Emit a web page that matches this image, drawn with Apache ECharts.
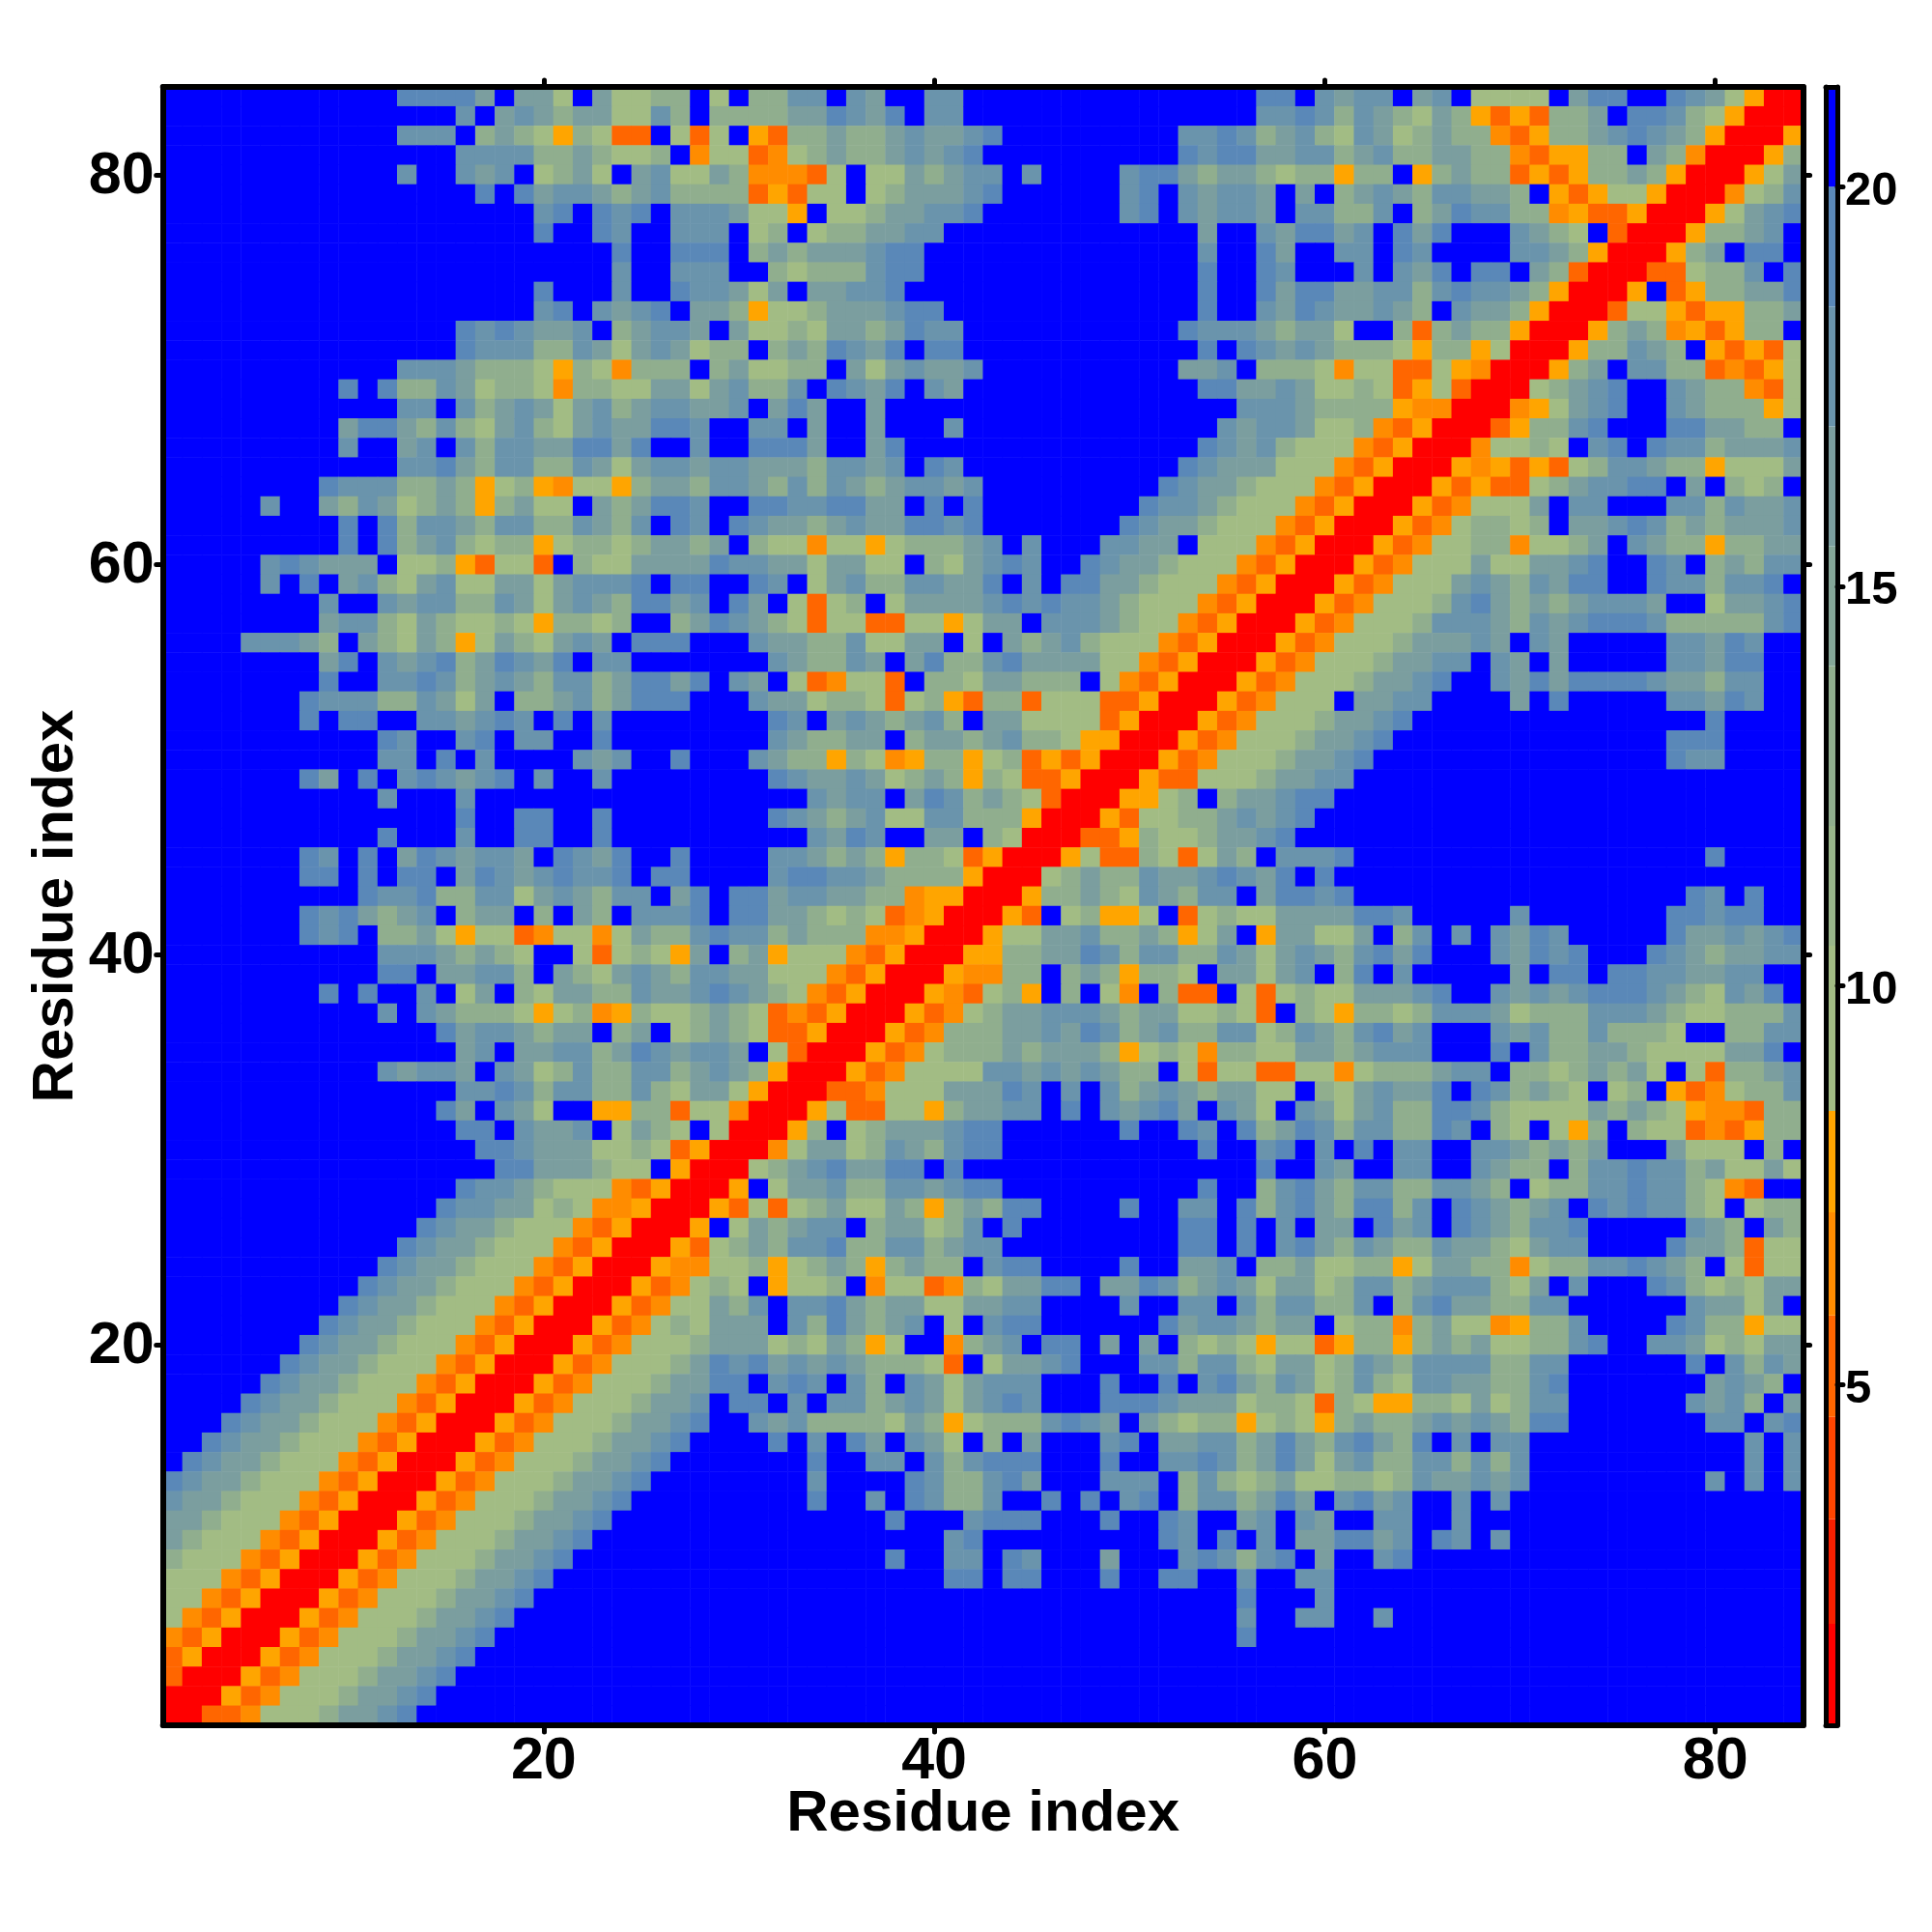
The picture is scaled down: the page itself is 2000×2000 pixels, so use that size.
<!DOCTYPE html>
<html>
<head>
<meta charset="utf-8">
<style>html,body{margin:0;padding:0;background:#fff}#c{width:2000px;height:2000px}</style>
<script src="https://cdn.jsdelivr.net/npm/echarts@6/dist/echarts.min.js"></script>
</head>
<body>
<div id="c"></div>
<script>
// Cell codes. Each string is one row, residue 84 at the top.
// Digit = colour level; d{n} = digit d repeated n times.
const rowsTop = [
"9{12}8888696649644559 4955779769977 9{15} 8897677967944449688998764300",
"9{15}7967656644759 5555668768977 9{15} 7787576546531315569887543000",
"9{12}7779565435411941 493155655676678 9{9} 7787 5675476456552135567876530003",
"9{15}7777556544592 44124565567678 9{10} 8788 6677567556655213355965200035",
"9{12}7997679456496744 6522214944656779799997886566 5455355935655131355653000346",
"9{16}898677656755 551314494566678 9{6} 7897677 6969567657766593134430002457",
"9{19}789878977 76443944566778 9{7} 7897677 6977557956877552311300034678",
"9{19}899879977 794594556677 9{13} 699 7688679868999765491000355679",
"9{23}89988 89565666788 9{14} 799 8699779879999776530003569889",
"9{23}79977 79954555788 9{14} 899 8799979768988965100011455798",
"9{19}899979987 7646966778 9{15} 899 8688667757877653000391355668",
"9{19}789767896 653445666788 9{13} 899 7687667659766530001443133556",
"9{15}8787667956776 9644546656877 9{11} 8777 6566499515655300035652313559",
"9{15}8777557646764 5595658768988 9{12} 898 7676555435534000355765931314",
"9{12}7776555435425559 56445596467667 9{10} 6679 5554244114320003569775512134",
"9{9}8985576455425544664 6755798768976 9{12} 886 6764454134100045678997655214",
"9{12}7797567646756776 679686996 9{18} 7 7765555322000234678997655534",
"9{9}6886575467546766887 9977969969997 9{13} 76 7764452130001355789998866559",
"9{9}7996797577668868997 9988869968 9{15} 876 7544421300024454978987756667",
"9{12}7786577557646776 7766657767987 9{11} 8766 6444213000323131457765534446",
"9{8}87775565345324435665 77657576567767 9{9} 87665 4442130003131145677889695459",
"9{5}799 65764565356449656887 99887788669898 9{8} 877654 4421300031244469779997757667",
"9{9}8985776577557657987 98766567668878 9{7} 8766544 4213000312455459667875656667",
"9{9}8985675455345545665 6954424434555679799977669444 2130003124455244569765535566",
"9{5}78766694453144195446666 8776646644954678799876654442 1300031244464466789987956577",
"9{5}79896754674466467778988 9987946755776689798866544421 3000312444676576889987757789",
"9{8}79976775576467658867 9869414594666678787765444213 0003124445786565677769946678",
"9{8}67754654454355459956 8765414411443466977765442130 0031244457776576788875555578"
];
const rowsMiddle = [
"9{4}777659654653465467698889 9976655744669496567544421300 0312444566676976999997768799",
"9{8}68976785687689779999 9997655769685578666644213000 3124445667797696999997768899",
"9{8}89977875676577568868 9769412441955466555942130003 1244456678997686888876657799",
"9{7}877755764695567568889 9976645541453155144411300031 2444966779999698999997768799",
"9{7}898899776787989799999 9998796765675966444413000312 44456678 9{15} 8 9{4}",
"9{11}87997897799899999 9997655669566567554330003124 4456678 9{14} 888 9{4}",
"9{11}77989799997679989 9976553542355345131300031244 456678 9{15} 877 9{4}",
"9{7}869897876789799799999 9998766764565354113000311444 56677 9{23}",
"9{11}7 999 7 9{12} 9999976779687565410003345956 6788 9{24}",
"9{15}89988998 9{5} 9998765674477555300031445567 678 9{25}",
"9{11}899979988998 9{5} 9999976879966954000113544566 78 9{26}",
"9{7}879896876776987689989 9997765653554130003411541465 97778 9{18} 8 9{4}",
"9{7}889898896876787789889 9997887765555300045655766787 6898 9{24}",
"9{10}877855774676577968 9886776655233000355654765779 68878 9{17} 879899",
"9{7}878656795669596597778 9886654541230003194533491454 46666887 9{5} 7 9{7} 8878899",
"9{7}878955643441244246557 8775655522300034466755653469 3664469579797687999998667678",
"9{11}77765654994145436 9563444213000335566875775576 4676578689997687899987656677",
"9{11}88966775965467657 7664442130003225595653554966 4679589799999698898877667799",
"9{8}89899794695466557667 8765421300032145395942951194 1454466678997676788876547689",
"9{11}79765554345235445 6541213000312456677765664454 1954355457776455577765445557",
"9{14}86776566956945 6541130003125556676875675577 4576578679997675575554995577",
"9{15}6796677568767 7694100031245556566653454255 4466567779998975566544446689",
"9{11}76776976457557756 7653000312444477676765594144 1144245556779554565649415567",
"9{15}7787577557546 6430001124446668797975676566 4495467668987565494593124557",
"9{14}86976499335514 4200034114435667798976786976 4976467558875444465654322155",
"9{15}8897667946549 4000359456667889999998998798 5687577558795494359544121355",
"9{16}887666445413 000246645765788 9{10} 899 7897989779977656569996444959",
"9{17}88666544930 0045678668898 9{15} 8997699779976559577877564464"
];
const rowsBottom = [
"9{15}8776544421300 039466755776788 9{10} 899 5786577557765945577877542199",
"9{14}87766454223000 3141456446535658899998997798 5786588579876567987877549455",
"9{13}876654442130003 9465677956645798 9{8} 8898 9796698679876577899999765965",
"9{12}8766544421300031 456577855775677 9{9} 8898 9786576557665467799998665144",
"9{11}87665444213000322 4453456535655978899998996679 5564455346655245577876594144",
"9{10}876654442130003124 5493445924412546688966875676 4664577567775469799987545466",
"9{9}8766544421300031244 6579778656644667799997997797 5775579578665577999999766469",
"9{8}87665444213000312454 6669758656794978899999986776 5669455256442355799998755344",
"9{7}876654442130003124445 6664546534992567988969695454 3441355356564455789977645466",
"9{6}8766544421300031244456 8786767655541946678999775775 4664576577775577999999897576",
"9{5}87665444213000312444566 8897879759764677799989989786 5764575477665578999999967659",
"9{4}876654442130003124445667 9889797756764678799988876664 5541543355464577999999767596",
"9{3}8766544421300031244456678 9976755554653455578769654553 4543565567676588999999977978",
"9{2}87665444213000312444566789 9998979869764959699978966775 68657865897977 9{11} 797",
"9{1}876654442130003124445667899 9999989977975788899989977875 68646755775757 9{11} 797",
"8766544421300031244456678999 9999979999875578699977795754 56445545766767 9{9} 79797",
"7665444213000312444566789999 9999989979875579989897895775 6869786799797 9{15}",
"66544421300031244456678 9{5} 9{9}8999788899989987996 79769977997 9{17}",
"6544421300031244456678 9{6} 9{12} 78 9{9} 87989 7966886798797 9{15}",
"544421300031244456678 9{7} 9{9} 8 99 77 9 87 999 6 999 7875 78969978 9{20}",
"44421300031244456678 9{8} 9{12} 88 9 88 999 8 99 88 99 7 9977 9{24}",
"4421300031244456678 9{9} 9{27} 8 9997 9{24}",
"421300031244456678 9{10} 9{27} 7 9977997 9{21}",
"21300031244456678 9{11} 9{27} 8 9{28}",
"1300031244456678 9{12} 9{28} 9{28}",
"100031244456678 9{13} 9{28} 9{28}",
"00031244456678 9{14} 9{28} 9{28}",
"0011244456678 9{15} 9{28} 9{28}"
];
// What each colour level stands for, in the colour bar's units.
const levelValues = [1.4, 5.2, 6.5, 7.8, 10, 13, 15.5, 17.8, 19.3, 20.7];
const levelColors = ["#FF0000","#FF6600","#FF8C00","#FFA500","#A2BC84","#90AE8E","#7B9E9F","#6A94AC","#5A88B8","#0000FF"];
const residues = Array.from({length: 84}, (_, i) => String(i + 1));
const tickResidues = ["20", "40", "60", "80"];
const axisTitle = "Residue index";
const barTicks = [5, 10, 15, 20];
const barMin = 0.74, barMax = 21.25;
const barEdges = [2.01, 3.32, 4.6, 5.87, 7.16, 8.43, 10.5, 12, 14, 15.5, 17, 18.5, 20, 21.25];
const barColors = ["#FF0000","#F82000","#FF4500","#FF6600","#FF8C00","#FFA500","#A2BC84","#98B58A","#90AE8E","#84A698","#7B9E9F","#6A94AC","#5A88B8","#0000FF"];

const rows = rowsTop.concat(rowsMiddle, rowsBottom).map(s =>
  s.replace(/ /g, "").replace(/(\d)\{(\d+)\}/g, (m, d, n) => d.repeat(+n)));
rows.forEach((r, i) => { if (r.length !== 84) throw new Error("row " + (84 - i) + " has " + r.length); });
const cells = [];
rows.forEach((r, i) => {
  for (let x = 0; x < 84; x++) cells.push([x, 83 - i, levelValues[+r[x]]]);
});

const FONT = "Liberation Sans";
const black = "#000";
const showTick = (i, v) => tickResidues.includes(v);
function gridCat(dir, pos, labelled) {
  const yLabelShift = dir === "y" ? {verticalAlign: "top", lineHeight: 4} : {};
  return {
    type: "category", gridIndex: 0, data: residues, position: pos, z: 5,
    boundaryGap: true, name: labelled ? axisTitle : "", nameLocation: "middle",
    nameMoveOverlap: false,
    nameGap: dir === "x" ? 62 : 80,
    nameTextStyle: {fontFamily: FONT, fontWeight: "bold", fontSize: 60, color: black},
    axisLine: {show: true, onZero: false, lineStyle: {color: black, width: 6, cap: "round"}},
    axisTick: {show: true, alignWithLabel: true, interval: showTick, length: 7,
               lineStyle: {color: black, width: 5, cap: "round"}},
    axisLabel: Object.assign({show: labelled, interval: showTick, margin: dir === "x" ? 8 : 9,
                fontFamily: FONT, fontWeight: "bold", fontSize: 61, color: black}, yLabelShift),
    splitLine: {show: false}, splitArea: {show: false}
  };
}
const barSeries = barEdges.map((e, i) => ({
  type: "bar", stack: "scale", xAxisIndex: 2, yAxisIndex: 2, barWidth: "100%", silent: true,
  data: [i === 0 ? e : +(e - barEdges[i - 1]).toFixed(2)],
  itemStyle: {color: barColors[i]}, animation: false
}));
const chart = echarts.init(document.getElementById("c"), null, {renderer: "canvas"});
chart.setOption({
  backgroundColor: "#fff",
  animation: false,
  grid: [
    {left: 168.7, top: 90, width: 1697.9, height: 1696},
    {left: 1890, top: 90, width: 12, height: 1696}
  ],
  visualMap: {
    show: false, type: "piecewise", seriesIndex: 0, dimension: 2,
    pieces: levelValues.map((v, i) => ({value: v, color: levelColors[i]}))
  },
  xAxis: [
    gridCat("x", "bottom", true),
    gridCat("x", "top", false),
    {type: "category", gridIndex: 1, data: [""], position: "bottom", z: 5,
     axisLine: {show: true, lineStyle: {color: black, width: 5}},
     axisTick: {show: false}, axisLabel: {show: false}},
    {type: "category", gridIndex: 1, data: [""], position: "top", z: 5,
     axisLine: {show: true, lineStyle: {color: black, width: 5}},
     axisTick: {show: false}, axisLabel: {show: false}}
  ],
  yAxis: [
    gridCat("y", "left", true),
    gridCat("y", "right", false),
    {type: "value", gridIndex: 1, position: "right", min: barMin, max: barMax, z: 5,
     interval: 5, splitLine: {show: false},
     customValues: barTicks,
     axisLine: {show: true, lineStyle: {color: black, width: 5}},
     axisTick: {show: true, customValues: barTicks, length: 6, lineStyle: {color: black, width: 5, cap: "round"}},
     axisLabel: {show: true, customValues: barTicks, margin: 8, verticalAlign: "top", lineHeight: 10, fontFamily: FONT, fontWeight: "bold", fontSize: 49, color: black}},
    {type: "value", gridIndex: 1, position: "left", min: barMin, max: barMax, z: 5,
     splitLine: {show: false},
     axisLine: {show: true, lineStyle: {color: black, width: 5}},
     axisTick: {show: false}, axisLabel: {show: false}}
  ],
  series: [
    {type: "heatmap", xAxisIndex: 0, yAxisIndex: 0, data: cells, progressive: 0, silent: true,
     itemStyle: {borderWidth: 0}, emphasis: {disabled: true}, animation: false}
  ].concat(barSeries)
});
</script>
</body>
</html>
